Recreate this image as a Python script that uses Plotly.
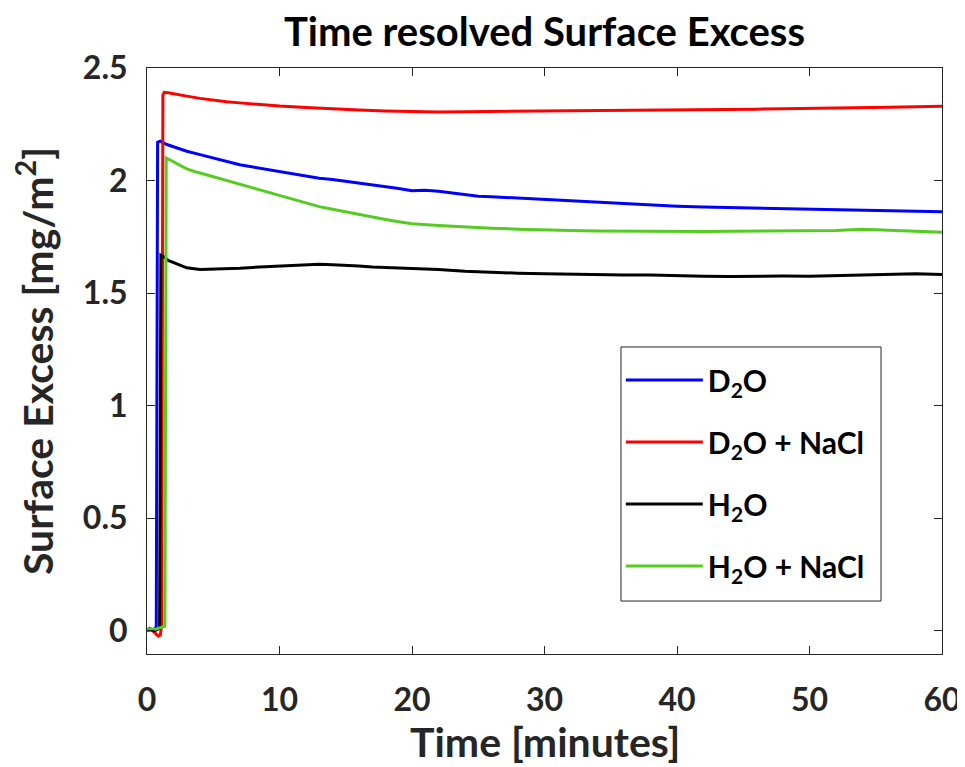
import plotly.graph_objects as go

# ---- data ----
d2o_t = [0, 0.2, 0.4, 0.6, 0.7, 0.8, 1.0, 1.5, 2, 3, 4, 5, 6, 7, 8, 9, 10,
         11, 12, 13, 14, 15, 16, 17, 18, 19, 20, 21, 22, 23, 24, 25, 26, 27, 28, 29, 30,
         32, 34, 36, 38, 40, 42, 44, 46, 48, 50, 52, 54, 56, 58, 60]
d2o_v = [0.0, 0.01, 0.0, 0.005, 0.02, 2.17, 2.175, 2.16, 2.15, 2.13, 2.115, 2.10, 2.085, 2.07, 2.06, 2.05, 2.04,
         2.03, 2.02, 2.01, 2.005, 1.997, 1.99, 1.982, 1.975, 1.965, 1.955, 1.957, 1.952, 1.945, 1.935, 1.93, 1.928, 1.925, 1.92, 1.918, 1.915,
         1.91, 1.905, 1.898, 1.892, 1.886, 1.882, 1.88, 1.878, 1.874, 1.872, 1.87, 1.867, 1.865, 1.863, 1.861]

d2o_nacl_t = [0, 0.3, 0.6, 0.85, 1.0, 1.1, 1.2, 1.3, 1.6, 2, 3, 4, 5, 6, 7, 8, 9, 10,
              12, 14, 16, 18, 20, 22, 24, 26, 28, 30, 32, 34, 36, 38, 40, 42, 44, 46, 48, 50, 52, 54, 56, 58, 60]
d2o_nacl_v = [0.0, 0.005, -0.01, -0.025, -0.02, 0.02, 2.38, 2.392, 2.39, 2.385, 2.375, 2.365, 2.357, 2.35, 2.345, 2.34, 2.335, 2.331,
              2.325, 2.318, 2.313, 2.309, 2.306, 2.305, 2.306, 2.307, 2.308, 2.308, 2.309, 2.31, 2.311, 2.311, 2.311, 2.313, 2.315,
              2.317, 2.319, 2.32, 2.322, 2.324, 2.326, 2.328, 2.33]

h2o_t = [0, 0.3, 0.6, 0.95, 1.05, 1.3, 1.6, 2, 2.5, 3,
         4, 5, 6, 7, 8, 9, 10, 11, 12, 13, 14, 15, 16, 17, 18, 19, 20,
         22, 24, 26, 28, 30, 32, 34, 36, 38, 40, 42, 44, 46, 48, 50, 52, 54, 56, 58, 60]
h2o_v = [0.0, 0.005, 0.0, 0.01, 1.668, 1.66, 1.645, 1.635, 1.622, 1.612,
         1.605, 1.606, 1.608, 1.61, 1.614, 1.617, 1.62, 1.62, 1.624, 1.628, 1.626, 1.624, 1.62, 1.616, 1.614, 1.612, 1.61,
         1.605, 1.597, 1.592, 1.588, 1.586, 1.583, 1.581, 1.58, 1.58, 1.579, 1.575, 1.573, 1.575, 1.576, 1.575, 1.578, 1.58,
         1.584, 1.586, 1.582]

h2o_nacl_t = [0, 0.3, 0.6, 0.9, 1.2, 1.35, 1.45, 1.6, 2, 2.4, 3, 3.6, 4.2, 4.85,
              6, 7, 8, 9, 10, 11, 12, 13, 14, 15, 16, 17, 18, 19, 20,
              22, 24, 26, 28, 30, 32, 34, 36, 38, 40, 42, 44, 46, 48, 50, 52, 54, 56, 58, 60]
h2o_nacl_v = [0.0, 0.01, 0.005, 0.01, 0.015, 0.02, 2.10, 2.095, 2.085, 2.07, 2.052, 2.04, 2.03, 2.02,
              2.0, 1.982, 1.965, 1.948, 1.931, 1.915, 1.898, 1.884, 1.872, 1.86, 1.849, 1.838, 1.827, 1.817, 1.808,
              1.8, 1.793, 1.788, 1.784, 1.78, 1.778, 1.776, 1.775, 1.775, 1.775, 1.774, 1.775, 1.776, 1.777, 1.778,
              1.778, 1.784, 1.78, 1.776, 1.77]

series_names = ["D<sub>2</sub>O", "D<sub>2</sub>O + NaCl", "H<sub>2</sub>O", "H<sub>2</sub>O + NaCl"]
series_colors = ["#0000ff", "#ff0000", "#000000", "#55cc22"]
x_ticks = [0, 10, 20, 30, 40, 50, 60]
y_ticks = [0, 0.5, 1, 1.5, 2, 2.5]
y_tick_labels = ["0", "0.5", "1", "1.5", "2", "2.5"]
x_title = "<b>Time [minutes]</b>"
y_title = "<b>Surface Excess [mg/m<sup>2</sup>]</b>"

FONT = "Lato"
series = [(d2o_t, d2o_v), (d2o_nacl_t, d2o_nacl_v), (h2o_t, h2o_v), (h2o_nacl_t, h2o_nacl_v)]

fig = go.Figure()
for i, ((t, v), name, col) in enumerate(zip(series, series_names, series_colors)):
    fig.add_trace(go.Scatter(x=t, y=v, mode="lines", name=name,
                             line=dict(color=col, width=3),
                             legendgroup=f"g{i}"))

axis_common = dict(showline=True, linecolor="#262626", linewidth=1, mirror="ticks",
                   ticks="inside", ticklen=8, tickcolor="#262626", tickwidth=1,
                   showgrid=False, zeroline=False, automargin=False, ticklabeloverflow="allow",
                   tickfont=dict(family=FONT, size=32, color="#262626", weight="bold"))

# legend frame (decoration, paper coordinates)
fig.add_shape(type="rect", xref="paper", yref="paper",
              x0=0.5962, x1=0.9233, y0=0.0904, y1=0.5239,
              line=dict(color="#262626", width=1), fillcolor="white", layer="below")

# x axis title as annotation (placed below tick labels)
fig.add_annotation(text=x_title, xref="paper", yref="paper", x=0.5, y=0,
                   xanchor="center", yanchor="middle", yshift=-87, showarrow=False,
                   font=dict(family=FONT, size=41, color="#262626"))

fig.update_layout(
    width=957, height=759,
    margin=dict(l=139, r=23, t=60, b=113),
    paper_bgcolor="white", plot_bgcolor="white",
    title=dict(text="<b>Time resolved Surface Excess</b>", xref="paper", x=0.5, xanchor="center",
               yref="container", y=0.968, yanchor="middle",
               font=dict(family=FONT, size=40, color="#000000")),
    xaxis=dict(range=[0, 60], tickvals=x_ticks, ticklabelstandoff=18, **axis_common),
    yaxis=dict(range=[-0.104, 2.5], tickvals=y_ticks, ticktext=y_tick_labels, ticklabelstandoff=12,
               title=dict(text=y_title, standoff=16,
                          font=dict(family=FONT, size=41, color="#262626")),
               **axis_common),
    legend=dict(x=0.596, y=0.512, xanchor="left", yanchor="top",
                bgcolor="rgba(0,0,0,0)", borderwidth=0,
                font=dict(family=FONT, size=30, color="#000000", weight="bold"),
                tracegroupgap=20, itemwidth=77),
    showlegend=True,
)

fig.write_html("out.html")
